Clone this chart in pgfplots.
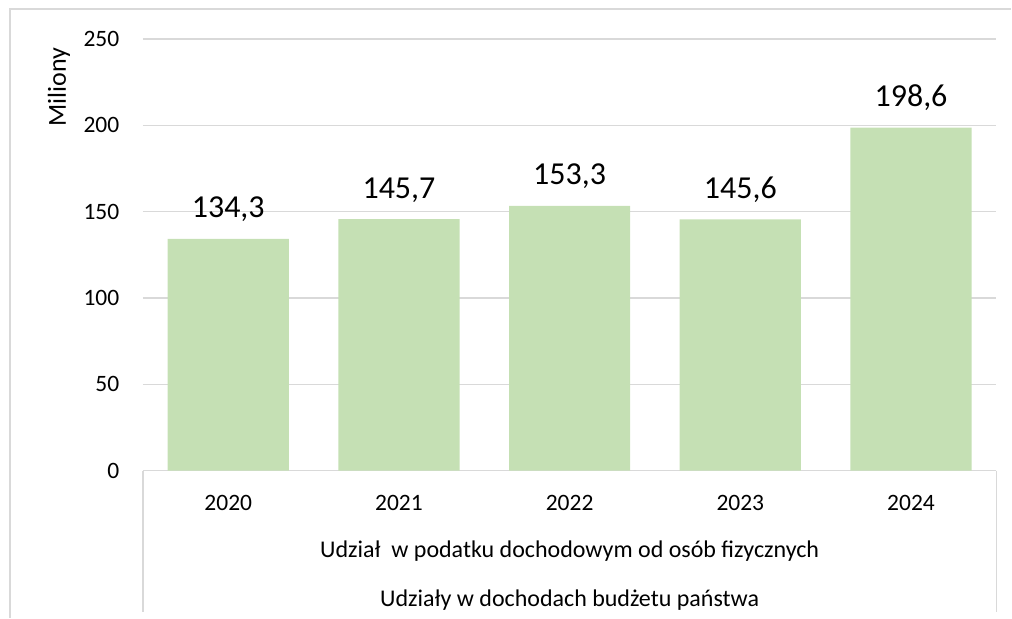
\documentclass[border=0pt]{standalone}
\usepackage{fontspec}
\setmainfont{Carlito}
\usepackage{pgfplots}
\pgfplotsset{compat=1.18}
\definecolor{barfill}{HTML}{C5E0B4}
\definecolor{gridc}{HTML}{D9D9D9}
\begin{document}
\begin{tikzpicture}
\path (0,0) rectangle (1012pt,618pt);
\draw[gridc, line width=1.3pt] (10pt,0pt) -- (10pt,609pt) -- (1012pt,609pt);
\begin{axis}[at={(143pt,147pt)}, anchor=south west,
  width=854pt, height=432pt, scale only axis,
  xmin=-0.5, xmax=4.5, ymin=0, ymax=250,
  ytick={0,50,...,250},
  xtick=data, xticklabels={2020,2021,2022,2023,2024},
  ymajorgrids, grid style={gridc, line width=1.3pt},
  axis line style={draw=none}, major tick length=0pt,
  tick label style={font=\fontsize{23.5}{28}\selectfont, inner sep=0pt},
  xticklabel style={anchor=base, yshift=-39.7pt},
  yticklabel style={anchor=east, xshift=-23.5pt},
  /pgf/number format/assume math mode=true,
  ybar, bar width=121.3pt, bar shift=0pt,
  nodes near coords={\pgfmathprintnumber[fixed, fixed zerofill, precision=1, use comma, assume math mode=true]{\pgfplotspointmeta}},
  nodes near coords style={font=\fontsize{32}{37}\selectfont, anchor=base, yshift=21pt},
  clip=false]
\addplot[fill=barfill, draw=none] coordinates {(0,134.3) (1,145.7) (2,153.3) (3,145.6) (4,198.6)};
\end{axis}
\draw[gridc, line width=1.3pt] (143pt,147pt) -- (143pt,6pt);
\draw[gridc, line width=1.3pt] (997pt,147pt) -- (997pt,6pt);
\node[anchor=base, font=\fontsize{24}{28}\selectfont] at (570pt,60pt) {Udział\ \ w podatku dochodowym od osób fizycznych};
\node[anchor=base, font=\fontsize{24}{28}\selectfont] at (570pt,11pt) {Udziały w dochodach budżetu państwa};
\node[rotate=90, anchor=base, font=\fontsize{26}{30}\selectfont] at (66pt,531pt) {Miliony};
\end{tikzpicture}
\end{document}
